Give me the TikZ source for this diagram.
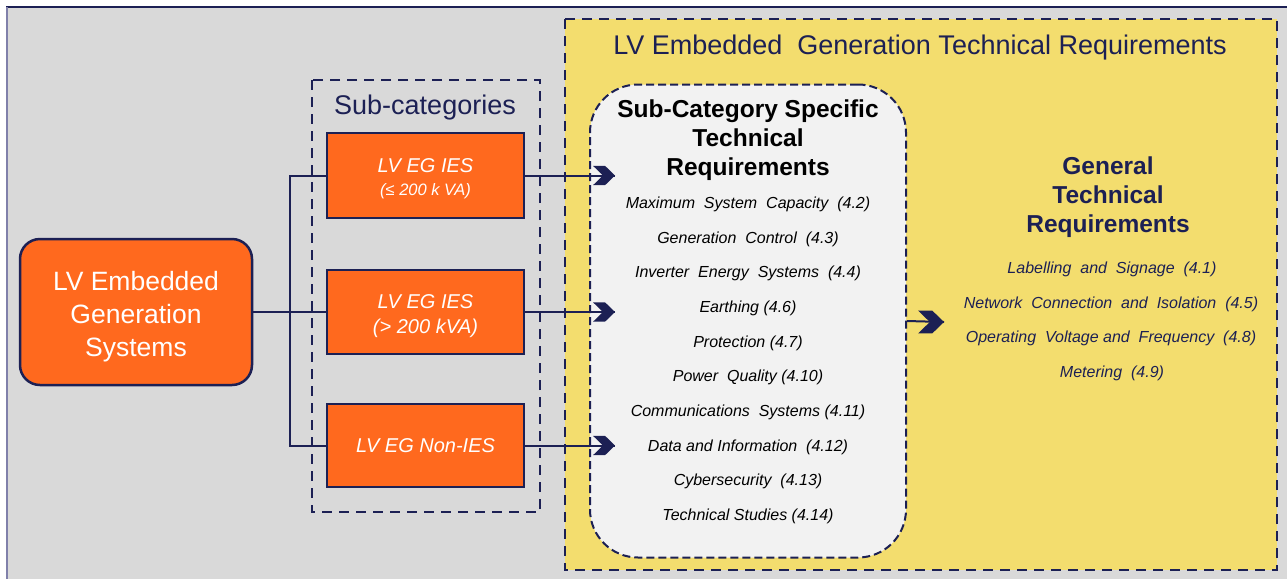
\documentclass[tikz,border=0pt]{standalone}
\usepackage{fontspec}
\setmainfont{Liberation Sans}

\definecolor{r217g217b217}{RGB}{217,217,217}
\definecolor{r243g221b110}{RGB}{243,221,110}
\definecolor{r242g242b242}{RGB}{242,242,242}
\definecolor{r255g105b30}{RGB}{255,105,30}
\definecolor{r28g32b84}{RGB}{28,32,84}
\definecolor{r128g128b170}{RGB}{128,128,170}

\tikzset{
  egbox/.style={draw=r28g32b84, fill=r255g105b30, line width=2.5pt, text=white, align=center},
  groupbox/.style={draw=r28g32b84, line width=2.5pt, dash pattern=on 10pt off 7pt},
  conn/.style={draw=r28g32b84, line width=2pt},
  itemtext/.style={font=\fontsize{16}{19}\selectfont\itshape},
  chevron/.pic={\fill [r28g32b84] (0,0) -- (-10,-9.7) -- (-22,-9.7) -- (-12,0) -- (-22,9.7) -- (-10,9.7) -- cycle;},
}

\begin{document}
\begin{tikzpicture}[x=1pt, y=-1pt]
  \useasboundingbox (0,0) rectangle (1287,579);

  % Background panel
  \fill [r217g217b217] (6,7) rectangle (1287,579);
  \draw [r28g32b84, line width=1.5pt] (6,7) -- (1287,7);
  \draw [r128g128b170, line width=1.5pt] (6.8,7) -- (6.8,579);

  % Technical requirements frame
  \draw [groupbox, fill=r243g221b110] (565,19) rectangle (1277,570);
  \node (title) at (920,48) [text=r28g32b84, font=\fontsize{27}{30}\selectfont] {LV Embedded\ \ Generation Technical Requirements};

  % Sub-categories frame
  \draw [groupbox] (312,80) rectangle (540,512);
  \node (subcat) at (425,108) [text=r28g32b84, font=\fontsize{27}{30}\selectfont] {Sub-categories};

  % Embedded generation systems
  \node (egsys) at (136,312) [egbox, rounded corners=20pt, minimum width=232pt, minimum height=146pt,
    font=\fontsize{26.5}{33}\selectfont] {\rule{0pt}{29pt}LV Embedded\\Generation\\Systems};

  % Sub-category boxes
  \node (ies1) at (425.5,175.5) [egbox, minimum width=197pt, minimum height=85pt, font=\fontsize{20}{24}\selectfont\itshape]
    {\rule{0pt}{21pt}LV EG IES\\[-1pt]{\fontsize{16.5}{18}\selectfont(≤ 200 k VA)}};
  \node (ies2) at (425.5,312) [egbox, minimum width=197pt, minimum height=84pt, font=\fontsize{20}{25}\selectfont\itshape]
    {\rule{0pt}{23pt}LV EG IES\\(> 200 kVA)};
  \node (nonies) at (425.5,445.5) [egbox, minimum width=197pt, minimum height=83pt, font=\fontsize{20}{24}\selectfont\itshape]
    {LV EG Non-IES};

  % Sub-category specific requirements
  \node (specreq) at (748,321) [draw=r28g32b84, fill=r242g242b242, line width=2pt, dash pattern=on 8pt off 4pt,
    rounded corners=48pt, minimum width=316pt, minimum height=473pt] {};
  \node (spechead) at (748,140) [align=center, font=\fontsize{24.5}{29}\selectfont\bfseries]
    {Sub-Category Specific\\Technical\\Requirements};
  \node (s42) at (748,204) [itemtext] {Maximum\ \ System\ \ Capacity\ \ (4.2)};
  \node (s43) at (748,239) [itemtext] {Generation\ \ Control\ \ (4.3)};
  \node (s44) at (748,273) [itemtext] {Inverter\ \ Energy\ \ Systems\ \ (4.4)};
  \node (s46) at (748,308) [itemtext] {Earthing (4.6)};
  \node (s47) at (748,343) [itemtext] {Protection (4.7)};
  \node (s410) at (748,377) [itemtext] {Power\ \ Quality (4.10)};
  \node (s411) at (748,412) [itemtext] {Communications\ \ Systems (4.11)};
  \node (s412) at (748,447) [itemtext] {Data and Information\ \ (4.12)};
  \node (s413) at (748,481) [itemtext] {Cybersecurity\ \ (4.13)};
  \node (s414) at (748,516) [itemtext] {Technical Studies (4.14)};

  % General requirements
  \node (genhead) at (1108,197) [align=center, text=r28g32b84, font=\fontsize{24.5}{29}\selectfont\bfseries]
    {General\\Technical\\Requirements};
  \node (g41) at (1112,269) [itemtext, text=r28g32b84] {Labelling\ \ and\ \ Signage\ \ (4.1)};
  \node (g45) at (1111,304) [itemtext, text=r28g32b84] {Network\ \ Connection\ \ and\ \ Isolation\ \ (4.5)};
  \node (g48) at (1111,338) [itemtext, text=r28g32b84] {Operating\ \ Voltage and\ \ Frequency\ \ (4.8)};
  \node (g49) at (1112,373) [itemtext, text=r28g32b84] {Metering\ \ (4.9)};

  % Connectors from systems to sub-categories
  \coordinate (split) at (290,312);
  \draw [conn] (egsys.east) -- (ies2.west);
  \draw [conn] (ies1.west) -| (split) |- (nonies.west);

  % Arrows into specific requirements
  \coordinate (tipA) at (615,175.5);
  \coordinate (tipB) at (615,312);
  \coordinate (tipC) at (615,445.5);
  \draw [conn] (ies1.east) -- (tipA);
  \draw [conn] (ies2.east) -- (tipB);
  \draw [conn] (nonies.east) -- (tipC);
  \pic at (tipA) {chevron};
  \pic at (tipB) {chevron};
  \pic at (tipC) {chevron};

  % Arrow into general requirements
  \coordinate (tipG) at (944,322);
  \draw [conn] (specreq.east) -- (tipG);
  \pic [scale=1.18] at (tipG) {chevron};
\end{tikzpicture}
\end{document}
